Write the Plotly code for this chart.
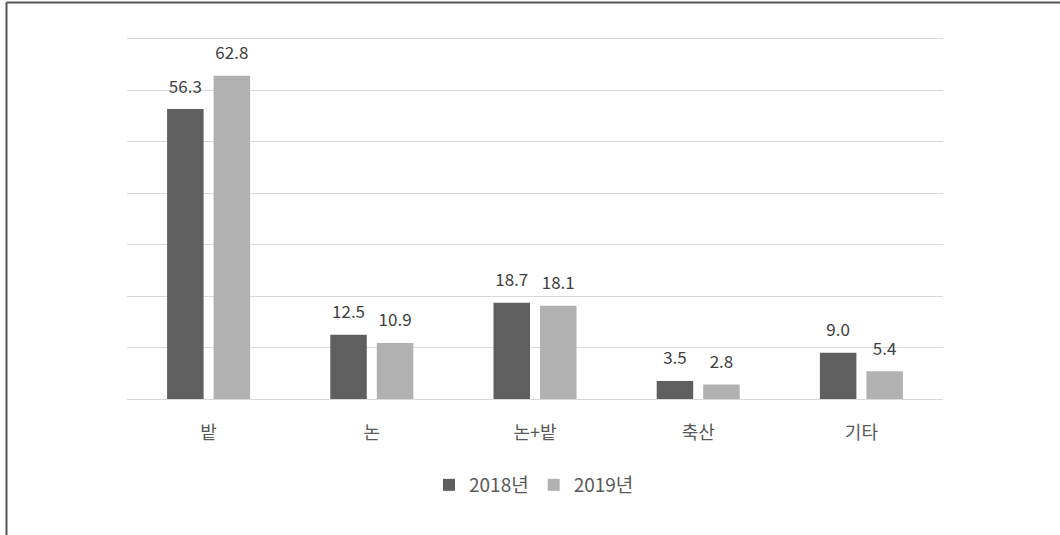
import plotly.graph_objects as go

categories = ["밭", "논", "논+밭", "축산", "기타"]
series_names = ["2018년", "2019년"]
values_2018 = [56.3, 12.5, 18.7, 3.5, 9.0]
values_2019 = [62.8, 10.9, 18.1, 2.8, 5.4]
colors = ["#5f5f5f", "#b1b1b1"]
y_ticks = [0, 10, 20, 30, 40, 50, 60, 70]

FONT = "Noto Sans CJK KR"
BARGAP = 0.43

fig = go.Figure()
for i, (name, vals, col) in enumerate(zip(series_names, [values_2018, values_2019], colors)):
    fig.add_trace(go.Bar(
        x=categories, y=vals, name=name,
        marker=dict(color=col, line=dict(width=0)),
        offsetgroup=str(i),
    ))
for i, vals in enumerate([values_2018, values_2019]):
    fig.add_trace(go.Scatter(
        x=categories, y=vals, mode="markers+text",
        marker=dict(size=18, opacity=0),
        text=[f"{v:.1f}" for v in vals],
        textposition="top center",
        textfont=dict(family=FONT, size=17, color="#404040"),
        showlegend=False, hoverinfo="skip",
        offsetgroup=str(i), cliponaxis=False,
    ))

L, R, T, B = 127, 117, 36, 136
W, H = 1060, 535
pw = W - L - R
ph = H - T - B

def px_x(p):
    return (p - L) / pw

def px_y(p):
    return (H - B - p) / ph

fig.update_layout(
    width=W, height=H,
    margin=dict(l=L, r=R, t=T, b=B, pad=0),
    paper_bgcolor="white", plot_bgcolor="white",
    barmode="group", bargap=BARGAP, bargroupgap=0.215,
    scattermode="group", scattergap=BARGAP,
    font=dict(family=FONT, size=17, color="#595959"),
    showlegend=True,
    legend=dict(
        orientation="h", x=px_x(534), xanchor="center", y=px_y(485), yanchor="middle",
        font=dict(family=FONT, size=19, color="#595959"),
        bgcolor="rgba(0,0,0,0)", traceorder="normal",
    ),
    xaxis=dict(
        showgrid=False, showline=True, linecolor="#d9d9d9", linewidth=1,
        ticks="", ticklabelstandoff=17,
        tickfont=dict(family=FONT, size=18, color="#595959"),
        zeroline=False,
    ),
    yaxis=dict(
        range=[0, 70.5], tickvals=y_ticks, showticklabels=False,
        showgrid=True, gridcolor="#d9d9d9", gridwidth=1,
        zeroline=False, showline=False, ticks="",
    ),
    shapes=[
        dict(type="line", xref="paper", yref="paper",
             x0=px_x(6.5), x1=px_x(1060), y0=px_y(2.5), y1=px_y(2.5),
             line=dict(color="#555555", width=2)),
        dict(type="line", xref="paper", yref="paper",
             x0=px_x(6.5), x1=px_x(6.5), y0=px_y(2.5), y1=px_y(535),
             line=dict(color="#555555", width=2)),
    ],
)

fig.write_html("out.html", config={"displayModeBar": False},
               post_script="document.body.style.margin='0';")
